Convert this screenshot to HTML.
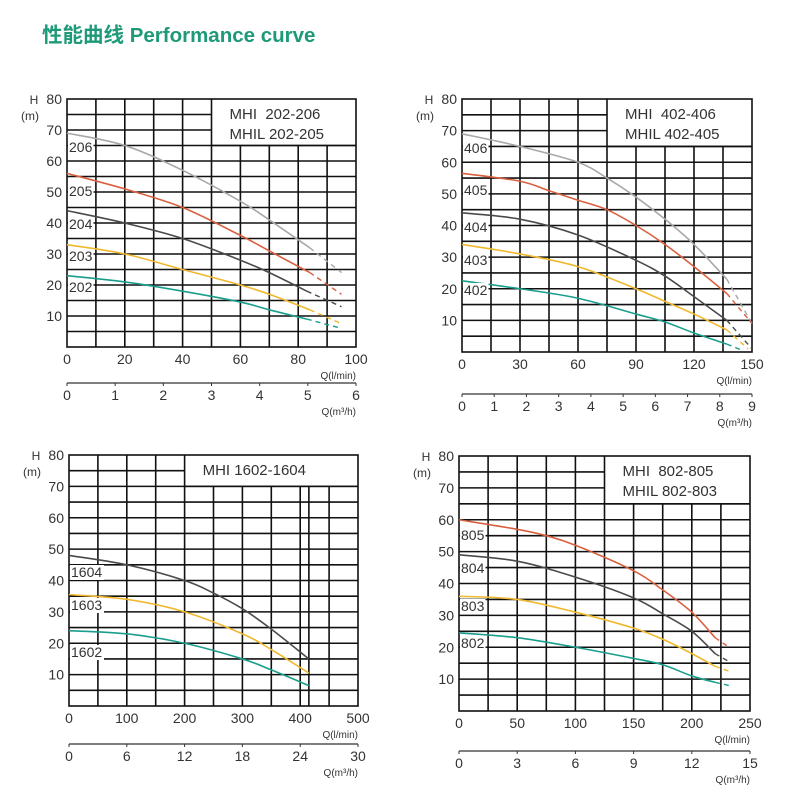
<!DOCTYPE html>
<html><head><meta charset="utf-8"><style>
body{margin:0;background:#fff;width:800px;height:800px;overflow:hidden}
svg{position:absolute;left:0;top:0}
text{font-family:"Liberation Sans","DejaVu Sans",sans-serif;fill:#333}
</style></head><body>
<svg id="s" width="800" height="800" xmlns="http://www.w3.org/2000/svg">
<text x="42" y="42" style="font-family:'Liberation Sans','Noto Sans CJK SC',sans-serif;font-size:20.5px;font-weight:bold;fill:#1e9a78">性能曲线  Performance curve</text>
</svg>
<script>
const S=document.getElementById('s');let out='';
const C={g:'#a8a8a8',r:'#d9603f',k:'#4a4a4a',y:'#f0b82d',t:'#1a9e8c'};
function chart(o){
 const X=v=>o.x0+(o.x1-o.x0)*v/o.xmax, Y=v=>o.y0+(o.y1-o.y0)*v/80;
 for(let v=5;v<80;v+=5){const y=Y(v);const inL=v>o.ly;out+=`<line x1="${o.x0}" x2="${inL?X(o.lx):o.x1}" y1="${y}" y2="${y}" stroke="#111" stroke-width="1.6"/>`;}
 for(let i=1;i<10;i++){const v=o.xmax*i/10;const x=X(v);out+=`<line x1="${x}" x2="${x}" y1="${v>o.lx-1e-6?Y(o.ly):o.y1}" y2="${o.y0}" stroke="#111" stroke-width="1.6"/>`;}
 (o.extra||[]).forEach(v=>{const x=X(v);out+=`<line x1="${x}" x2="${x}" y1="${Y(o.ly)}" y2="${o.y0}" stroke="#111" stroke-width="1.6"/>`;});
 out+=`<line x1="${X(o.lx)}" x2="${X(o.lx)}" y1="${o.y1}" y2="${Y(o.ly)}" stroke="#111" stroke-width="1.6"/>`;
 out+=`<line x1="${X(o.lx)}" x2="${o.x1}" y1="${Y(o.ly)}" y2="${Y(o.ly)}" stroke="#111" stroke-width="1.6"/>`;
 out+=`<rect x="${o.x0}" y="${o.y1}" width="${o.x1-o.x0}" height="${o.y0-o.y1}" fill="none" stroke="#111" stroke-width="1.6"/>`;
 o.leg.forEach((t,i)=>out+=`<text x="${X(o.lx)+18}" y="${o.y1+20+i*20}" font-size="15">${t}</text>`);
 for(let v=10;v<=80;v+=10)out+=`<text x="${o.x0-5}" y="${Y(v)+5}" font-size="14" text-anchor="end">${v}</text>`;
 out+=`<text x="${o.x0-33}" y="${o.y1+5}" font-size="12" text-anchor="middle">H</text><text x="${o.x0-37}" y="${o.y1+21}" font-size="12" text-anchor="middle">(m)</text>`;
 o.xl.forEach((t,i)=>out+=`<text x="${X(o.xmax*i/(o.xl.length-1))}" y="${o.y0+17}" font-size="14" text-anchor="middle">${t}</text>`);
 out+=`<text x="${o.x1}" y="${o.y0+32}" font-size="10" text-anchor="end">Q(l/min)</text>`;
 out+=`<line x1="${o.x0}" x2="${o.x1}" y1="${o.a2}" y2="${o.a2}" stroke="#333" stroke-width="1.2"/>`;
 o.x2.forEach((t,i)=>{const x=o.x0+(o.x1-o.x0)*i/(o.x2.length-1);out+=`<line x1="${x}" x2="${x}" y1="${o.a2}" y2="${o.a2+3}" stroke="#333"/><text x="${x}" y="${o.a2+17}" font-size="14" text-anchor="middle">${t}</text>`;});
 out+=`<text x="${o.x1}" y="${o.a2+32}" font-size="10" text-anchor="end">Q(m³/h)</text>`;
 o.cv.forEach(c=>{
  const pts=c.p.map(p=>[X(p[0]),Y(p[1])]);
  const path=(ps)=>{let d=`M${ps[0][0]},${ps[0][1]}`;for(let i=0;i<ps.length-1;i++){const p0=ps[Math.max(0,i-1)],p1=ps[i],p2=ps[i+1],p3=ps[Math.min(ps.length-1,i+2)];d+=` C${p1[0]+(p2[0]-p0[0])/6},${p1[1]+(p2[1]-p0[1])/6} ${p2[0]-(p3[0]-p1[0])/6},${p2[1]-(p3[1]-p1[1])/6} ${p2[0]},${p2[1]}`;}return d;};
  const n=c.s||pts.length;
  out+=`<path d="${path(pts.slice(0,n))}" fill="none" stroke="${C[c.c]}" stroke-width="1.6"/>`;
  if(n<pts.length)out+=`<path d="${path(pts.slice(n-1))}" fill="none" stroke="${C[c.c]}" stroke-width="1.4" stroke-dasharray="5,4"/>`;
  if(c.l){out+=`<rect x="${o.x0+1}" y="${c.ly-12}" width="${c.l.length*8.5}" height="15" fill="#fff"/><text x="${o.x0+2}" y="${c.ly}" font-size="14">${c.l}</text>`;}
 });
}
chart({x0:67,x1:356,y0:347,y1:99,xmax:100,lx:50,ly:65,a2:383,leg:['MHI&#160;&#160;202-206','MHIL 202-205'],
 xl:['0','20','40','60','80','100'],x2:['0','1','2','3','4','5','6'],cv:[
 {c:'g',s:6,l:'206',ly:152,p:[[0,69],[20,65],[40,57],[60,47],[70,41],[84,32],[95,24]]},
 {c:'r',s:6,l:'205',ly:196,p:[[0,56],[20,51],[40,45],[60,36],[70,31],[84,24],[95,17]]},
 {c:'k',s:6,l:'204',ly:229,p:[[0,44],[20,40],[40,35],[60,28],[70,24],[83,18],[95,13]]},
 {c:'y',s:6,l:'203',ly:261,p:[[0,33],[20,30],[40,25],[60,20],[70,17],[84,12],[95,7.5]]},
 {c:'t',s:6,l:'202',ly:292,p:[[0,23],[20,21],[40,18],[60,14.5],[70,12],[83,9],[95,6]]}]});
chart({x0:462,x1:752,y0:352,y1:99,xmax:150,lx:75,ly:65,a2:394,leg:['MHI&#160;&#160;402-406','MHIL 402-405'],
 xl:['0','30','60','90','120','150'],x2:['0','1','2','3','4','5','6','7','8','9'],cv:[
 {c:'g',s:8,l:'406',ly:153,p:[[0,69],[30,65],[60,60],[75,55],[90,49],[105,42],[120,34],[137,23],[150,9]]},
 {c:'r',s:9,l:'405',ly:195,p:[[0,56.5],[30,54],[45,51],[60,48],[75,45],[90,40],[105,34],[120,27],[137,18.5],[150,9]]},
 {c:'k',s:7,l:'404',ly:232,p:[[0,44],[30,42],[60,37],[90,29],[105,24],[120,17.5],[137,10],[150,1]]},
 {c:'y',s:7,l:'403',ly:265,p:[[0,34],[30,31],[60,27],[90,20],[105,16],[120,12],[137,7],[148,1]]},
 {c:'t',s:7,l:'402',ly:295,p:[[0,22.5],[30,20],[60,17],[90,12],[105,9.5],[120,6],[137,2.5],[145,0.5]]}]});
chart({x0:69,x1:358,y0:706,y1:455,xmax:500,lx:200,ly:70,a2:744,leg:['MHI 1602-1604'],extra:[415],
 xl:['0','100','200','300','400','500'],x2:['0','6','12','18','24','30'],cv:[
 {c:'k',l:'1604',ly:577,p:[[0,48],[100,45],[200,40],[250,36],[300,31],[350,24.5],[415,15]]},
 {c:'y',l:'1603',ly:610,p:[[0,35.5],[100,34],[200,30],[300,23],[350,18],[415,10.5]]},
 {c:'t',l:'1602',ly:657,p:[[0,24],[100,23],[200,20],[300,15],[350,11.5],[415,6.5]]}]});
chart({x0:459,x1:750,y0:711,y1:456,xmax:250,lx:125,ly:65,a2:751,leg:['MHI&#160;&#160;802-805','MHIL 802-803'],
 xl:['0','50','100','150','200','250'],x2:['0','3','6','9','12','15'],cv:[
 {c:'r',s:8,l:'805',ly:540,p:[[0,60],[50,57],[75,55],[100,52],[150,44],[175,38],[200,31],[220,23],[232,20]]},
 {c:'k',s:7,l:'804',ly:573,p:[[0,49],[50,47],[100,42],[150,35.5],[175,30.5],[200,25],[220,18],[232,15.5]]},
 {c:'y',s:7,l:'803',ly:611,p:[[0,36],[50,35],[100,31],[150,26],[175,22.5],[200,18],[220,14],[232,12.5]]},
 {c:'t',s:7,l:'802',ly:648,p:[[0,24.5],[50,23],[100,20],[150,16.5],[175,14.5],[200,11],[220,9],[232,8]]}]});
S.insertAdjacentHTML('beforeend',out);
</script>
</body></html>
